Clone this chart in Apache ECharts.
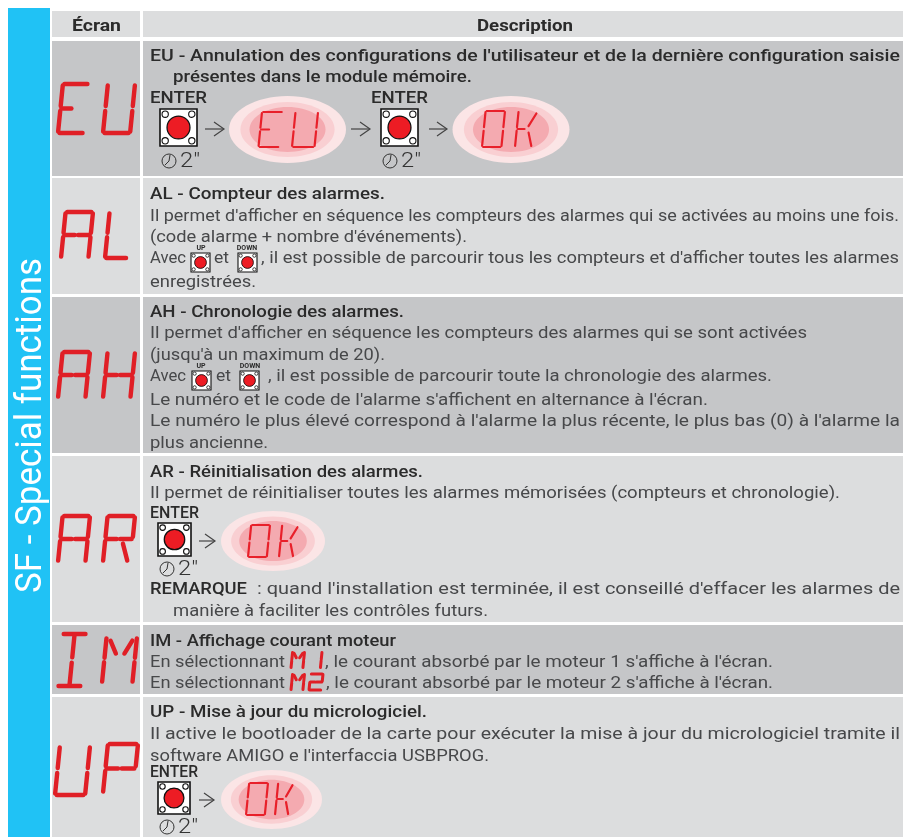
<!DOCTYPE html>
<html>
<head>
<meta charset="utf-8">
<style>
html, body { margin: 0; padding: 0; background: #fff; }
#main { width: 903px; height: 837px; }
</style>
<script src="https://cdn.jsdelivr.net/npm/echarts@6/dist/echarts.min.js"></script>
</head>
<body>
<div id="main"></div>
<script>
// contents
var sideTitle = 'SF - Special functions';
var headers = ['Écran', 'Description'];
var screenCodes = ['EU', 'AL', 'AH', 'AR', 'IM', 'UP'];
var enterLabel = 'ENTER';
var holdLabel = '2"';
var upLabel = 'UP';
var downLabel = 'DOWN';

var textEU = [
    "EU - Annulation des configurations de l'utilisateur et de la dernière configuration saisie",
    "présentes dans le module mémoire."
];
var textAL = [
    "AL - Compteur des alarmes.",
    "Il permet d'afficher en séquence les compteurs des alarmes qui se activées au moins une fois.",
    "(code alarme + nombre d'événements).",
    "Avec",
    "et",
    ", il est possible de parcourir tous les compteurs et d'afficher toutes les alarmes",
    "enregistrées."
];
var textAH = [
    "AH - Chronologie des alarmes.",
    "Il permet d'afficher en séquence les compteurs des alarmes qui se sont activées",
    "(jusqu'à un maximum de 20).",
    "Avec",
    "et",
    ", il est possible de parcourir toute la chronologie des alarmes.",
    "Le numéro et le code de l'alarme s'affichent en alternance à l'écran.",
    "Le numéro le plus élevé correspond à l'alarme la plus récente, le plus bas (0) à l'alarme la",
    "plus ancienne."
];
var textAR = [
    "AR - Réinitialisation des alarmes.",
    "Il permet de réinitialiser toutes les alarmes mémorisées (compteurs et chronologie).",
    "REMARQUE",
    ": quand l'installation est terminée, il est conseillé d'effacer les alarmes de",
    "manière à faciliter les contrôles futurs."
];
var textIM = [
    "IM - Affichage courant moteur",
    "En sélectionnant",
    ", le courant absorbé par le moteur 1 s'affiche à l'écran.",
    "En sélectionnant",
    ", le courant absorbé par le moteur 2 s'affiche à l'écran."
];
var textUP = [
    "UP - Mise à jour du micrologiciel.",
    "Il active le bootloader de la carte pour exécuter la mise à jour du micrologiciel tramite il",
    "software AMIGO e l'interfaccia USBPROG."
];

// layout: [y, x start, x end, bold]
var layoutEU = [[55, 150, 900, 1], [76, 173, 472, 1]];
var layoutAL = [[193, 150, 385, 1], [215, 150, 899, 0], [236, 150, 467, 0], [257, 150, 186, 0], [257, 214, 229, 0], [257, 261, 899, 0], [281, 150, 256, 0]];
var layoutAH = [[311, 150, 404, 1], [332, 150, 807, 0], [354, 150, 385, 0], [375, 150, 186, 0], [375, 216, 231, 0], [375, 268, 772, 0], [399, 150, 708, 0], [420, 150, 900, 0], [442, 150, 268, 0]];
var layoutAR = [[471, 150, 423, 1], [492, 150, 840, 0], [588, 150, 247, 1], [588, 257, 900, 0], [610, 173, 488, 0]];
var layoutIM = [[640, 150, 396, 1], [661, 150, 285, 0], [661, 325, 773, 0], [682, 150, 285, 0], [682, 326, 773, 0]];
var layoutUP = [[711, 150, 427, 1], [733, 150, 900, 0], [755, 150, 489, 0]];

var rowTop = [41, 178, 297, 456, 625, 697];
var rowBottom = [176, 294, 453, 622, 694, 837];
var rowFill = ['#c5c6c8', '#dcddde', '#c5c6c8', '#dcddde', '#c5c6c8', '#dcddde'];

// big display letters: x, y, width, height for each letter
var bigBoxes = [
    [[58, 84, 31, 49], [103, 84, 32, 49]],
    [[61, 212, 32, 46], [105, 212, 27, 46]],
    [[58, 352, 32, 46], [103, 352, 32, 46]],
    [[58, 516, 32, 46], [103, 516, 32, 46]],
    [[57, 634, 30, 52], [102, 637, 35, 46]],
    [[55, 746, 35, 49], [103, 744, 35, 49]]
];

// flow pieces
var enterPos = [[150, 207, 97], [371, 428, 97], [150, 199, 512], [150, 198, 771]];
var buttons = [[160, 109, 37], [381, 109, 37], [158, 523, 33], [158, 782, 32]];
var smallButtons = [[191, 253, 19], [238, 253, 19], [192, 371, 19], [240, 371, 19]];
var smallLabels = [[upLabel, 201, 248], [downLabel, 247, 248], [upLabel, 201, 366], [downLabel, 250, 366]];
var arrows = [[205, 224, 129], [351, 370, 129], [429, 447, 129], [199, 215, 541], [199, 214, 800]];
var ovals = [[287.5, 129.5, 58.5, 33.5], [511, 129.5, 58.5, 33.5], [273, 541, 52, 30], [271.5, 799.5, 50.5, 29.5]];
var ovalTexts = [
    ['EU', [258.5, 112, 24.5, 35], [292, 112, 26, 35]],
    ['OK', [482, 111, 23, 36], [515, 111, 22, 36]],
    ['OK', [248, 525, 22, 32], [279, 525, 19, 32]],
    ['OK', [246, 783, 22, 32], [275, 783, 18, 32]]
];
var inlineTexts = [
    ['M1', [291, 652, 13.5, 16], [315, 652, 7, 16]],
    ['M2', [291, 674, 13.5, 16], [309, 674, 14, 16]]
];

var FONT = 'Roboto, "Noto Sans", sans-serif';
var DARK = '#2b2b2b';
var GREY = '#47484a';
var RED = '#e01f26';

// segments of the display, u/v inside the letter box
var SEG = {
    a: [0.06, 0, 0.94, 0], d: [0.06, 1, 0.94, 1],
    f: [0, 0.03, 0, 0.45], e: [0, 0.55, 0, 0.97],
    b: [1, 0.03, 1, 0.45], c: [1, 0.55, 1, 0.97],
    g: [0.04, 0.5, 0.42, 0.5], h: [0.54, 0.5, 0.96, 0.5],
    i: [0.5, 0.03, 0.5, 0.45], l: [0.5, 0.55, 0.5, 0.97],
    m: [0.14, 0.08, 0.36, 0.36], n: [0.86, 0.08, 0.64, 0.36],
    r: [0.66, 0.6, 0.88, 0.97], s: [0.62, 0.42, 0.98, 0.07]
};
var LETTERS = {
    E: 'afegd', U: 'febcd', A: 'afebcgh', L: 'fed', H: 'febcgh',
    R: 'afebghr', I: 'adil', M: 'febcmn', P: 'afebgh', O: 'abcdef',
    K: 'fegrs', 1: 'bc', 2: 'abghed'
};

var ctx = document.createElement('canvas').getContext('2d');
var elements = [];

function addRect(x, y, w, h, fill) {
    elements.push({ type: 'rect', shape: { x: x, y: y, width: w, height: h }, style: { fill: fill }, silent: true });
}

// text stretched to the width it has in the picture
function addText(t, x0, x1, y, font, fill) {
    ctx.font = font;
    var natural = ctx.measureText(t).width;
    elements.push({
        type: 'text', x: x0, y: y + 1.5, scaleX: (x1 - x0) / natural, silent: true,
        style: { text: t, font: font, fill: fill, align: 'left', verticalAlign: 'middle' }
    });
}

function addLines(lines, layout) {
    for (var i = 0; i < lines.length; i++) {
        var l = layout[i];
        var font = (l[3] ? '500 ' : '400 ') + '17px ' + FONT;
        addText(lines[i], l[1], l[2], l[0], font, l[3] ? DARK : GREY);
    }
}

function addLetter(ch, box, lw, color) {
    var x = box[0], y = box[1], w = box[2], h = box[3];
    var skew = h * 0.1;
    var segs = LETTERS[ch];
    for (var i = 0; i < segs.length; i++) {
        var s = SEG[segs[i]];
        elements.push({
            type: 'line', silent: true,
            shape: {
                x1: x + s[0] * (w - skew) + skew * (1 - s[1]), y1: y + s[1] * h,
                x2: x + s[2] * (w - skew) + skew * (1 - s[3]), y2: y + s[3] * h
            },
            style: { stroke: color, lineWidth: lw, lineCap: 'round' }
        });
    }
}

function addCircle(cx, cy, r, fill, stroke, lw) {
    elements.push({ type: 'circle', silent: true, shape: { cx: cx, cy: cy, r: r }, style: { fill: fill, stroke: stroke, lineWidth: lw } });
}

function addButton(b, lw) {
    var x = b[0], y = b[1], s = b[2];
    elements.push({ type: 'rect', silent: true, shape: { x: x, y: y, width: s, height: s }, style: { fill: '#fff', stroke: '#111', lineWidth: lw } });
    addCircle(x + s / 2, y + s / 2, s * 0.31, '#ed1c24', '#111', lw * 0.8);
    var c = [[0.14, 0.14], [0.86, 0.14], [0.14, 0.86], [0.86, 0.86]];
    for (var i = 0; i < 4; i++) {
        addCircle(x + s * c[i][0], y + s * c[i][1], s * 0.085, '#fff', '#111', lw * 0.7);
    }
}

function addHold(b) {
    var cx = b[0] + 9, cy = b[1] + b[2] + Math.round(b[2] * 0.4);
    addCircle(cx, cy, 7, 'none', '#333', 1);
    elements.push({ type: 'polyline', silent: true, shape: { points: [[cx + 1, cy - 6], [cx, cy], [cx - 4, cy + 4]] }, style: { fill: 'none', stroke: '#333', lineWidth: 1 } });
    addText(holdLabel, cx + 11, cx + 31, cy - 1, '300 21px ' + FONT, '#333');
}

function addArrow(a) {
    elements.push({ type: 'line', silent: true, shape: { x1: a[0], y1: a[2], x2: a[1], y2: a[2] }, style: { stroke: '#444', lineWidth: 1.2 } });
    elements.push({ type: 'polyline', silent: true, shape: { points: [[a[1] - 10, a[2] - 7], [a[1], a[2]], [a[1] - 10, a[2] + 7]] }, style: { fill: 'none', stroke: '#444', lineWidth: 1.2 } });
}

function addOval(o) {
    var sizes = [[1, 1, '#fbe5e6'], [0.805, 0.82, '#f9cfd2'], [0.65, 0.67, '#f4aab0']];
    for (var i = 0; i < 3; i++) {
        elements.push({
            type: 'ellipse', silent: true,
            shape: { cx: o[0], cy: o[1], rx: o[2] * sizes[i][0], ry: o[3] * sizes[i][1] },
            style: { fill: sizes[i][2] }
        });
    }
}

// background
addRect(8, 8, 42, 829, '#20c2f5');
addRect(52, 11, 88, 26, '#dcddde');
addRect(143, 11, 760, 26, '#dcddde');
for (var r = 0; r < screenCodes.length; r++) {
    addRect(52, rowTop[r], 88, rowBottom[r] - rowTop[r], rowFill[r]);
    addRect(143, rowTop[r], 760, rowBottom[r] - rowTop[r], rowFill[r]);
}

// side title, turned to read upwards
ctx.font = '400 37px ' + FONT;
elements.push({
    type: 'text', x: 31.5, y: 593, rotation: Math.PI / 2, silent: true,
    scaleX: 335 / ctx.measureText(sideTitle).width,
    style: { text: sideTitle, font: '400 37px ' + FONT, fill: '#fff', align: 'left', verticalAlign: 'middle' }
});

// header
addText(headers[0], 72, 121, 25, '700 17px ' + FONT, DARK);
addText(headers[1], 477, 573, 25, '700 17px ' + FONT, DARK);

// big letters
for (var i = 0; i < screenCodes.length; i++) {
    addLetter(screenCodes[i][0], bigBoxes[i][0], 4.4, RED);
    addLetter(screenCodes[i][1], bigBoxes[i][1], 4.4, RED);
}

// descriptions
addLines(textEU, layoutEU);
addLines(textAL, layoutAL);
addLines(textAH, layoutAH);
addLines(textAR, layoutAR);
addLines(textIM, layoutIM);
addLines(textUP, layoutUP);

// flow pieces
enterPos.forEach(function (p) { addText(enterLabel, p[0], p[1], p[2], '500 17px ' + FONT, DARK); });
buttons.forEach(function (b) { addButton(b, 1.6); addHold(b); });
smallButtons.forEach(function (b) { addButton(b, 1.1); });
smallLabels.forEach(function (l) {
    elements.push({
        type: 'text', x: l[1], y: l[2], silent: true,
        style: { text: l[0], font: '700 7px ' + FONT, fill: DARK, align: 'center', verticalAlign: 'middle' }
    });
});
arrows.forEach(addArrow);
ovals.forEach(addOval);
ovalTexts.forEach(function (o) {
    addLetter(o[0][0], o[1], 2.2, '#e8202a');
    addLetter(o[0][1], o[2], 2.2, '#e8202a');
});
inlineTexts.forEach(function (o) {
    addLetter(o[0][0], o[1], 3, RED);
    addLetter(o[0][1], o[2], 3, RED);
});

var myChart = echarts.init(document.getElementById('main'), null, { renderer: 'canvas' });
myChart.setOption({
    backgroundColor: '#fff',
    animation: false,
    graphic: { elements: elements }
});
</script>
</body>
</html>
